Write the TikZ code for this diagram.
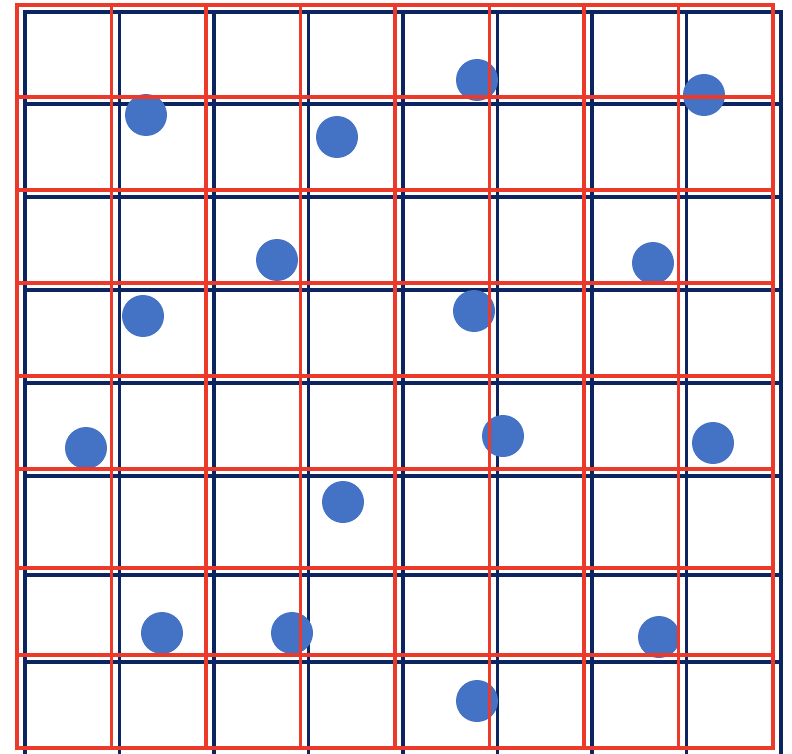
\documentclass[tikz,border=0pt]{standalone}
\definecolor{gridred}{RGB}{236,58,42}
\definecolor{gridnavy}{RGB}{12,36,96}
\definecolor{dotblue}{RGB}{68,114,196}
\tikzset{
  redline/.style={draw=gridred, line width=3.2pt, line cap=rect},
  navyline/.style={draw=gridnavy, line width=3.2pt, line cap=rect},
  dot/.style={fill=dotblue}
}
\begin{document}
\begin{tikzpicture}[x=1pt,y=-1pt]
\useasboundingbox (0,0) rectangle (792,754);
% back grid
\foreach \x in {25,119.5,214,308.5,403,497.5,592,686.5,781}
  \draw[navyline] (\x,12) -- (\x,756);
\foreach \y in {12,104,197,290,383,476,575,662,756}
  \draw[navyline] (25,\y) -- (781,\y);
% points
\foreach \x/\y in {146/115, 477/80, 704/95, 337/137, 277/260, 653/263,
  143/316, 474/311, 86/448, 503/436, 713/443, 343/502, 162/633,
  292/633, 659/637, 477/701}
  \fill[dot] (\x,\y) circle (21pt);
% front grid
\foreach \x in {17,111.5,206,300.5,395,489.5,584,678.5,773}
  \draw[redline] (\x,5) -- (\x,748);
\foreach \y in {5,97,190,283,376,469,568,655,748}
  \draw[redline] (17,\y) -- (773,\y);
\end{tikzpicture}
\end{document}
